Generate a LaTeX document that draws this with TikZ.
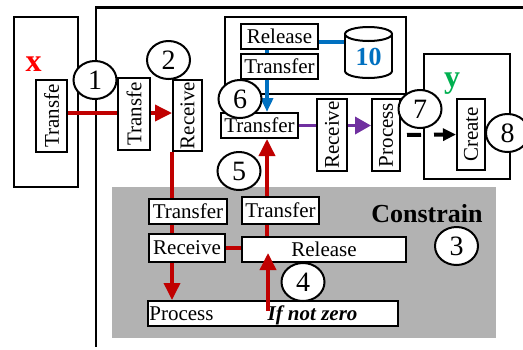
\documentclass[tikz,border=0pt]{standalone}
\usepackage{fontspec}
\setmainfont{Liberation Serif}
\usetikzlibrary{arrows.meta,positioning,shapes.geometric}
\definecolor{flowred}{HTML}{C00000}
\definecolor{flowblue}{HTML}{0070C0}
\definecolor{flowpurple}{HTML}{7030A0}
\definecolor{flowgreen}{HTML}{00B050}
\pgfdeclarelayer{back}
\pgfdeclarelayer{lines}
\pgfsetlayers{back,lines,main}
\tikzset{
  box/.style={draw, fill=white, line width=1pt, inner sep=1pt,
    font=\fontsize{10.5}{12}\selectfont},
  vbox/.style={box, rotate=90},
  num/.style={ellipse, draw, fill=white, line width=1pt, inner sep=0pt,
    minimum width=21.5pt, minimum height=19pt,
    font=\fontsize{14}{16}\selectfont},
  frame/.style={line width=1.1pt},
  redline/.style={flowred, line width=1.8pt},
  redarrow/.style={redline, -{Triangle[length=8.5pt,width=8pt]}},
}

\begin{document}
\begin{tikzpicture}[x=0.5pt,y=-0.5pt]
  \useasboundingbox (0,0) rectangle (523,349);
  % Frames and the grey constraint area
  \begin{pgfonlayer}{back}
    \fill[black!30] (112,187) rectangle (496,338);
    \draw[frame] (523,7.5) -- (96,7.5) -- (96,347);
    \draw[line width=1pt] (14,17) rectangle (78,187);
    \draw[line width=1pt] (225,17) rectangle (406,94);
    \draw[line width=1pt] (424,54) rectangle (510,179);
  \end{pgfonlayer}
  % Source x
  \node[text=red, font=\fontsize{16}{18}\selectfont\bfseries] (xlab) at (33.5,64) {x};
  \node[vbox, minimum width=36pt, minimum height=15.5pt] (tX) at (51.5,116) {Transfe};
  % Entry
  \node[vbox, minimum width=36pt, minimum height=16pt] (tA) at (134,114) {Transfe};
  \node[vbox, minimum width=35.5pt, minimum height=14.5pt] (rA) at (187.5,115.5) {Receive};
  % Store
  \node[box, minimum width=38.5pt, minimum height=12.5pt] (relA) at (279.5,36.5) {Release};
  \node[box, minimum width=38.5pt, minimum height=12.5pt] (trA) at (279.5,66.5) {Transfer};
  \filldraw[fill=white, line width=1pt] (368.5,71) ellipse [x radius=23.5, y radius=7];
  \fill[white] (345,34) rectangle (392,71);
  \draw[line width=1pt] (345,34) -- (345,71) (392,34) -- (392,71);
  \filldraw[fill=white, line width=1pt] (368.5,34) ellipse [x radius=23.5, y radius=7];
  \coordinate (db) at (345,42);
  \node[text=flowblue, font=\fontsize{13}{15}\selectfont\bfseries] (cnt) at (368.5,57) {10};
  % Main flow
  \node[box, minimum width=38.5pt, minimum height=12.5pt] (trB) at (259.5,125.5) {Transfer};
  \node[vbox, minimum width=36pt, minimum height=15pt] (rB) at (332,135) {Receive};
  \node[vbox, minimum width=36pt, minimum height=14pt] (pB) at (386,135) {Process};
  % Target y
  \node[text=flowgreen, font=\fontsize{16}{18}\selectfont\bfseries] (ylab) at (452,84) {y};
  \node[vbox, minimum width=35.5pt, minimum height=14pt] (cr) at (471,134.5) {Create};
  % Constraint
  \node[font=\fontsize{13}{15}\selectfont\bfseries] (cons) at (427,214) {Constrain};
  \node[box, minimum width=39pt, minimum height=12.5pt] (trC) at (188,211.5) {Transfer};
  \node[box, minimum width=38pt, minimum height=14pt] (rC) at (187,248) {Receive};
  \node[box, minimum width=38.5pt, minimum height=13.5pt] (trD) at (280.5,210.5) {Transfer};
  \node[box, minimum width=82pt, minimum height=12.5pt] (relB) at (324,249.5) {Release};
  \node[box, minimum width=125pt, minimum height=12.5pt] (pC) at (273,313.5) {};
  \node[anchor=west, inner sep=1pt, font=\fontsize{10.5}{12}\selectfont] (pCtext) at (pC.west) {Process};
  \node[font=\fontsize{10.5}{12}\selectfont\bfseries\itshape] (nztext) at (312.5,315) {If not zero};
  % Connectors
  \begin{pgfonlayer}{lines}
    \draw[redarrow] ([yshift=1.5pt]tX.south) -- ([yshift=1.5pt]tX.south -| rA.north);
    \draw[redline] (rA.north west) -- (rA.north west |- rC.north);
    \draw[redarrow] (rA.north west |- rC.south) -- (rA.north west |- pC.north);
    \draw[redline] (rC.east) -- (rC.east -| relB.west);
    \draw[redarrow] ([xshift=3.75pt]trB.south |- relB.north) -- ([xshift=3.75pt]trB.south);
    \draw[flowblue, line width=1.8pt] (db -| relA.east) -- (db);
    \draw[flowblue, line width=1.8pt, -{Triangle[length=7pt,width=6pt]}]
      ([xshift=-6.25pt]relA.south) -- ([xshift=-6.25pt]relA.south |- trB.north);
    \draw[flowpurple, line width=1.8pt, -{Triangle[length=8pt,width=8.5pt]}]
      (trB.east) -- (trB.east -| pB.north);
    \draw[line width=2pt, dash pattern=on 7pt off 6.5pt, dash phase=10.5pt,
      -{Triangle[length=6.5pt,width=6pt]}] (pB.south) -- (cr.north);
  \end{pgfonlayer}
  \coordinate (nz) at (268,311);
  \draw[redarrow] (nz) -- ++(0,-58);
  % Numbered marks
  \node[num] (c1) at (95,80) {1};
  \node[num] (c2) at (168.5,60) {2};
  \node[num] (c3) at (456.5,246) {3};
  \node[num] (c4) at (303,282) {4};
  \node[num] (c5) at (239,171) {5};
  \node[num] (c6) at (240,99) {6};
  \node[num] (c7) at (420,109) {7};
  \node[num] (c8) at (507.5,133) {8};
\end{tikzpicture}
\end{document}
